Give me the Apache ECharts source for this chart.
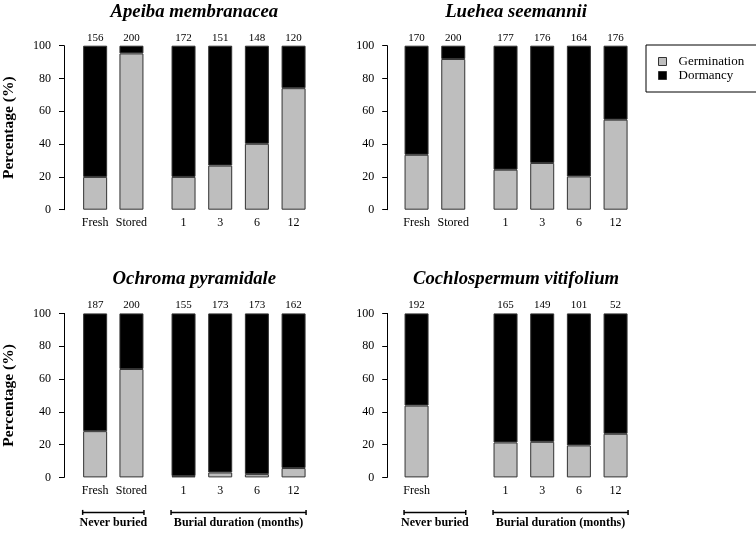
<!DOCTYPE html>
<html><head><meta charset="utf-8">
<script src="https://cdn.jsdelivr.net/npm/echarts@6/dist/echarts.min.js"></script>
<style>html,body{margin:0;padding:0;background:#fff}#c{width:756px;height:533px}</style>
</head><body><div id="c"></div>
<script>
// ---- data ----
const speciesNames = ['Apeiba membranacea', 'Luehea seemannii', 'Ochroma pyramidale', 'Cochlospermum vitifolium'];
const neverBuriedCats = ['Fresh', 'Stored'];
const neverBuriedCatsCoch = ['Fresh', ''];
const burialCats = ['1', '3', '6', '12'];
const seriesNames = ['Germination', 'Dormancy'];
const groupLabels = ['Never buried', 'Burial duration (months)'];
const yAxisTitle = 'Percentage (%)';

const apeibaGerm = [20.0, 95.3, 20.0, 26.9, 40.2, 74.1];
const apeibaDorm = [80.0, 4.7, 80.0, 73.1, 59.8, 25.9];
const apeibaN = [156, 200, 172, 151, 148, 120];

const lueheaGerm = [33.5, 91.9, 24.4, 28.5, 20.3, 54.9];
const lueheaDorm = [66.5, 8.1, 75.6, 71.5, 79.7, 45.1];
const lueheaN = [170, 200, 177, 176, 164, 176];

const ochromaGerm = [28.2, 66.1, 0.8, 3.0, 2.0, 5.7];
const ochromaDorm = [71.8, 33.9, 99.2, 97.0, 98.0, 94.3];
const ochromaN = [187, 200, 155, 173, 173, 162];

const cochGerm = [43.8, null, 21.3, 21.7, 19.5, 26.6];
const cochDorm = [56.2, null, 78.7, 78.3, 80.5, 73.4];
const cochN = [192, null, 165, 149, 101, 52];

// ---- layout / style ----
const FONT = '"Liberation Serif", "Times New Roman", serif';
const panels = [
  {title: speciesNames[0], germ: apeibaGerm, dorm: apeibaDorm, n: apeibaN, cats: neverBuriedCats, dx: 0, top: 45.7, yOff: 13, yName: true, brackets: false},
  {title: speciesNames[1], germ: lueheaGerm, dorm: lueheaDorm, n: lueheaN, cats: neverBuriedCats, dx: 322, top: 45.7, yOff: 11, yName: false, brackets: false},
  {title: speciesNames[2], germ: ochromaGerm, dorm: ochromaDorm, n: ochromaN, cats: neverBuriedCats, dx: 0, top: 313.4, yOff: 13, yName: true, brackets: true},
  {title: speciesNames[3], germ: cochGerm, dorm: cochDorm, n: cochN, cats: neverBuriedCatsCoch, dx: 322, top: 313.4, yOff: 11, yName: false, brackets: true}
];
const PLOT_H = 164;
const BAR_W = 24;
const GRAY = '#bebebe';
const BORDER = '#333';

const grids = [], xAxes = [], yAxes = [], series = [];
panels.forEach((p, i) => {
  const gA = 2 * i, gB = 2 * i + 1;
  grids.push({left: 76.2 + p.dx, top: p.top, width: 73.4, height: PLOT_H});
  grids.push({left: 165.2 + p.dx, top: p.top, width: 146.7, height: PLOT_H});
  [[gA, p.cats], [gB, burialCats]].forEach(([g, cats]) => {
    xAxes.push({
      type: 'category', gridIndex: g, data: cats,
      axisLine: {show: false}, axisTick: {show: false},
      axisLabel: {color: '#000', fontFamily: FONT, fontSize: 12, margin: 7, interval: 0}
    });
  });
  yAxes.push({
    type: 'value', gridIndex: gA, min: 0, max: 100, interval: 20, offset: p.yOff,
    axisLine: {show: true, lineStyle: {color: '#000', width: 1}},
    axisTick: {show: true, length: 5, lineStyle: {color: '#000', width: 1}},
    axisLabel: {color: '#000', fontFamily: FONT, fontSize: 12, margin: 13},
    splitLine: {show: false},
    name: p.yName ? yAxisTitle : '', nameLocation: 'middle', nameGap: 47,
    nameTextStyle: {color: '#000', fontFamily: FONT, fontSize: 15.5, fontWeight: 'bold'}
  });
  yAxes.push({type: 'value', gridIndex: gB, min: 0, max: 100, interval: 20, show: false, splitLine: {show: false}});
  [[gA, 0, 2], [gB, 2, 6]].forEach(([g, s, e]) => {
    series.push({
      name: seriesNames[0], type: 'bar', stack: 'p' + g, xAxisIndex: g, yAxisIndex: g,
      data: p.germ.slice(s, e), barWidth: BAR_W, silent: true,
      itemStyle: {color: GRAY, borderColor: BORDER, borderWidth: 1}
    });
    series.push({
      name: seriesNames[1], type: 'bar', stack: 'p' + g, xAxisIndex: g, yAxisIndex: g,
      data: p.dorm.slice(s, e), barWidth: BAR_W, silent: true,
      itemStyle: {color: '#000', borderColor: BORDER, borderWidth: 1},
      label: {
        show: true, position: 'top', distance: 2.5, color: '#000', fontFamily: FONT, fontSize: 11,
        formatter: (prm) => { const v = p.n[s + prm.dataIndex]; return v == null ? '' : String(v); }
      }
    });
  });
});

const option = {
  animation: false,
  backgroundColor: '#fff',
  grid: grids, xAxis: xAxes, yAxis: yAxes, series: series,
  legend: {
    data: seriesNames, orient: 'vertical', left: 646, top: 45,
    padding: [10, 13, 10, 12], itemGap: 1, itemWidth: 8, itemHeight: 8, icon: 'rect',
    borderColor: '#000', borderWidth: 1, selectedMode: false,
    itemStyle: {borderColor: BORDER, borderWidth: 1},
    textStyle: {color: '#000', fontFamily: FONT, fontSize: 13, padding: [0, 0, 0, 7], lineHeight: 13}
  }
};

const chart = echarts.init(document.getElementById('c'), null, {renderer: 'canvas'});
chart.setOption(option);

// annotations: titles and group brackets, positioned from the axes
const graphics = [];
panels.forEach((p, i) => {
  const gA = 2 * i, gB = 2 * i + 1;
  const a0 = chart.convertToPixel({gridIndex: gA}, [0, 0]);
  const a1 = chart.convertToPixel({gridIndex: gA}, [1, 0]);
  const b0 = chart.convertToPixel({gridIndex: gB}, [0, 0]);
  const b3 = chart.convertToPixel({gridIndex: gB}, [3, 0]);
  const half = (BAR_W + 1) / 2;
  const xl = a0[0] - half, xr = b3[0] + half;
  graphics.push({
    type: 'text', x: (xl + xr) / 2, y: p.top - 34,
    style: {text: p.title, textAlign: 'center', textVerticalAlign: 'middle', fill: '#000',
      font: 'italic bold 18.7px ' + FONT}
  });
  if (p.brackets) {
    const yb = a0[1] + 35;
    [[a0[0] - half, a1[0] + half, groupLabels[0]], [b0[0] - half, b3[0] + half, groupLabels[1]]].forEach(([x1, x2, t]) => {
      const ls = {stroke: '#000', lineWidth: 1.5};
      graphics.push({type: 'line', shape: {x1: x1, y1: yb, x2: x2, y2: yb}, style: ls});
      graphics.push({type: 'line', shape: {x1: x1, y1: yb - 2.5, x2: x1, y2: yb + 2.5}, style: ls});
      graphics.push({type: 'line', shape: {x1: x2, y1: yb - 2.5, x2: x2, y2: yb + 2.5}, style: ls});
      graphics.push({
        type: 'text', x: (x1 + x2) / 2, y: yb + 11,
        style: {text: t, textAlign: 'center', textVerticalAlign: 'middle', fill: '#000',
          font: 'bold 12px ' + FONT}
      });
    });
  }
});
chart.setOption({graphic: graphics});
</script>
</body></html>
